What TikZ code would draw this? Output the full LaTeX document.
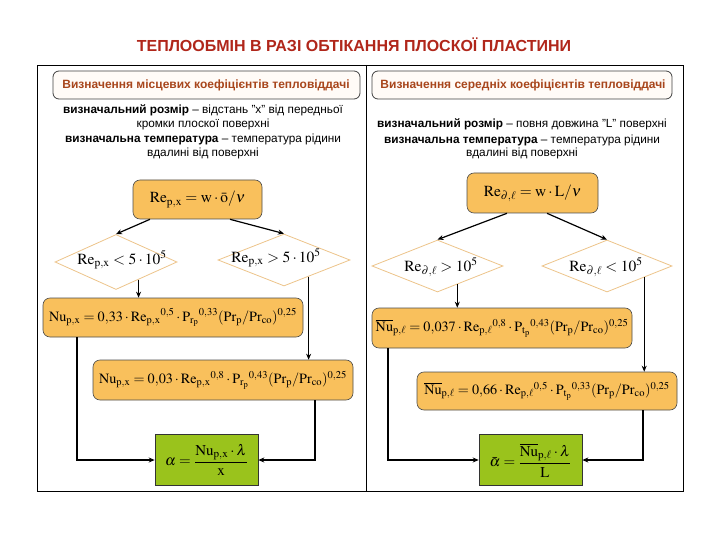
\documentclass[tikz,border=0pt]{standalone}
\usepackage{mathptmx}
\usepackage[no-math]{fontspec}
\setmainfont{Liberation Sans}
\usetikzlibrary{shapes.geometric,arrows.meta,calc}
\definecolor{ttl}{HTML}{B0261A}
\definecolor{hdr}{HTML}{A8461C}
\definecolor{orng}{HTML}{F9C05C}
\definecolor{grn}{HTML}{9AC31C}
\definecolor{tan}{HTML}{EDC48A}
\begin{document}
\begin{tikzpicture}[x=1pt,y=-1pt,
  frame/.style={draw=black,line width=0.9pt},
  hdrbox/.style={draw=black!75,line width=0.8pt,rounded corners=6pt,fill=orange!3},
  hdrtext/.style={text=hdr,font=\fontsize{12}{14}\selectfont\bfseries},
  body/.style={align=center,font=\fontsize{11.8}{15.5}\selectfont},
  obox/.style={draw=black!70,line width=0.6pt,rounded corners=7pt,fill=orng,inner sep=0pt,font=\fontsize{15.4}{17}\selectfont},
  nubox/.style={obox,font=\fontsize{14.2}{16}\selectfont},
  gbox/.style={draw=black!80,line width=0.6pt,fill=grn,inner sep=0pt,font=\fontsize{15}{17}\selectfont},
  dia/.style={diamond,draw=tan,line width=0.8pt,fill=white,inner sep=0pt,aspect=2.2},
  diatext/.style={inner sep=0pt,font=\fontsize{15.5}{17}\selectfont},
  arr/.style={draw=black,line width=1.2pt,-{Stealth[length=6pt,width=5pt]}},
  ]
\useasboundingbox (0,0) rectangle (720,540);
% title
\node[text=ttl,font=\fontsize{16}{18}\selectfont\bfseries] (title) at (354,45) {ТЕПЛООБМІН В РАЗІ ОБТІКАННЯ ПЛОСКОЇ ПЛАСТИНИ};
% frame
\draw[frame] (37,65) rectangle (683,491);
\draw[frame] (366,65) -- (366,491);
% headers
\node[hdrbox,minimum width=307pt,minimum height=28pt] (hL) at (206.5,85) {};
\node[hdrtext] (hLt) at (206,85) {Визначення місцевих коефіцієнтів тепловіддачі};
\node[hdrbox,minimum width=300pt,minimum height=28pt] (hR) at (522,85) {};
\node[hdrtext] (hRt) at (523,85) {Визначення середніх коефіцієнтів тепловіддачі};
% body texts
\node[body] (tL) at (203,132) {\textbf{визначальний розмір} – відстань "x" від передньої\\[-2pt]кромки плоскої поверхні\\\textbf{визначальна температура} – температура рідини\\[-2pt]вдалині від поверхні};
\node[body] (tR) at (522,139) {\textbf{визначальний розмір} – повня довжина "L" поверхні\\[0pt]\textbf{визначальна температура} – температура рідини\\[-2pt]вдалині від поверхні};
% ---------- left flow
\node[obox,minimum width=129pt,minimum height=39pt] (reL) at (197.5,199.5) {$\mathrm{Re_{p,x}=w\cdot\bar{o}/\nu}$};
\node[dia,minimum width=122pt,minimum height=55pt] (dLl) at (116,262) {};
\node[diatext] (dLlt) at (122,260) {$\mathrm{Re_{p,x}<5\cdot10^5}$};
\node[dia,minimum width=132pt,minimum height=52pt] (dLr) at (284,260) {};
\node[diatext] (dLrt) at (276,258) {$\mathrm{Re_{p,x}>5\cdot10^5}$};
\node[nubox,minimum width=260pt,minimum height=39pt] (nuL1) at (173,317.5) {$\mathrm{Nu_{p,x}=0{,}33\cdot {Re_{p,x}}^{0{,}5}\cdot {P_{r_p}}^{0{,}33}(Pr_p/Pr_{co})^{0{,}25}}$};
\node[nubox,minimum width=260pt,minimum height=40pt] (nuL2) at (223,380) {$\mathrm{Nu_{p,x}=0{,}03\cdot {Re_{p,x}}^{0{,}8}\cdot {P_{r_p}}^{0{,}43}(Pr_p/Pr_{co})^{0{,}25}}$};
\node[gbox,minimum width=103pt,minimum height=51pt] (aL) at (206.5,460) {$\displaystyle\alpha=\frac{\mathrm{Nu_{p,x}}\cdot\lambda}{\mathrm{x}}$};
\draw[arr] ([xshift=-47.5pt]reL.south) -- (dLl.north);
\draw[arr] ([xshift=32.5pt]reL.south) -- (dLr.north);
\draw[arr] (dLl.-38.7) -- (dLl.-38.7 |- nuL1.north);
\draw[arr] (dLr.-34.5) -- (dLr.-34.5 |- nuL2.north);
\draw[arr] ([xshift=-96pt]nuL1.south) |- (aL.west);
\draw[arr] ([xshift=92pt]nuL2.south) |- (aL.east);
% ---------- right flow
\node[obox,minimum width=131pt,minimum height=40pt] (reR) at (532.5,193) {$\mathrm{Re_{\partial,\ell}=w\cdot L/\nu}$};
\node[dia,minimum width=131pt,minimum height=52pt] (dRl) at (437.5,266) {};
\node[diatext] (dRlt) at (441,267) {$\mathrm{Re_{\partial,\ell}>10^5}$};
\node[dia,minimum width=130pt,minimum height=52pt] (dRr) at (607,266) {};
\node[diatext] (dRrt) at (606,267) {$\mathrm{Re_{\partial,\ell}<10^5}$};
\node[nubox,minimum width=260pt,minimum height=40pt] (nuR1) at (502,328) {$\mathrm{\overline{Nu}_{p,\ell}=0{,}037\cdot {Re_{p,\ell}}^{0{,}8}\cdot {P_{t_p}}^{0{,}43}(Pr_p/Pr_{co})^{0{,}25}}$};
\node[nubox,minimum width=260pt,minimum height=38pt] (nuR2) at (547,391) {$\mathrm{\overline{Nu}_{p,\ell}=0{,}66\cdot {Re_{p,\ell}}^{0{,}5}\cdot {P_{t_p}}^{0{,}33}(Pr_p/Pr_{co})^{0{,}25}}$};
\node[gbox,minimum width=103pt,minimum height=51pt] (aR) at (530.5,460) {$\displaystyle\bar{\alpha}=\frac{\mathrm{\overline{Nu}_{p,\ell}}\cdot\lambda}{\mathrm{L}}$};
\draw[arr] ([xshift=-25.5pt]reR.south) -- (dRl.north);
\draw[arr] ([xshift=14.5pt]reR.south) -- (dRr.north);
\draw[arr] (dRl.-43.2) -- (dRl.-43.2 |- nuR1.north);
\draw[arr] (dRr.-17.9) -- (dRr.-17.9 |- nuR2.north);
\draw[arr] ([xshift=-114pt]nuR1.south) |- (aR.west);
\draw[arr] ([xshift=96pt]nuR2.south) |- (aR.east);
\end{tikzpicture}
\end{document}
